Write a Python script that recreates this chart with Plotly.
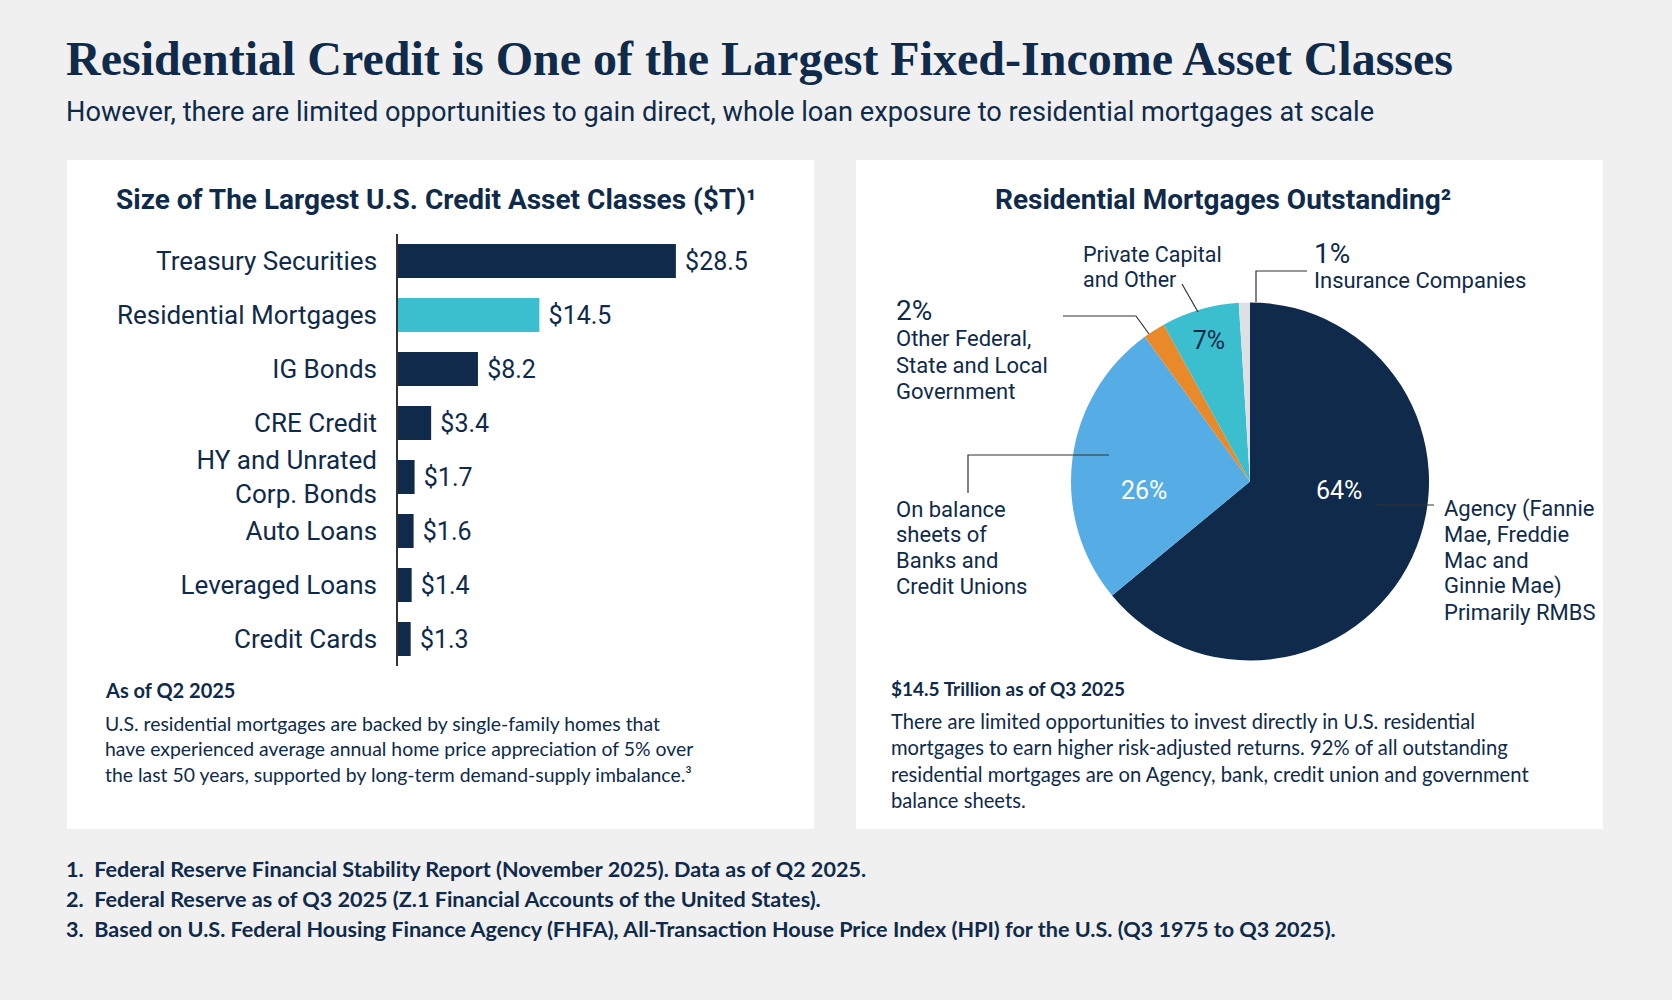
import plotly.graph_objects as go

W, H = 1672, 1000
NAVY = "#0f2a4a"
TEAL = "#3bbfcf"
LIGHT_BLUE = "#56ade6"
ORANGE = "#e8892a"
PALE = "#dde1e5"
BG = "#f0f0f0"

# --- data ---
asset_classes = ["Treasury Securities", "Residential Mortgages", "IG Bonds", "CRE Credit",
                 "HY and Unrated<br>Corp. Bonds", "Auto Loans", "Leveraged Loans", "Credit Cards"]
asset_sizes = [28.5, 14.5, 8.2, 3.4, 1.7, 1.6, 1.4, 1.3]
bar_colors = [NAVY, TEAL, NAVY, NAVY, NAVY, NAVY, NAVY, NAVY]

holders = ["Agency (Fannie Mae, Freddie Mac and Ginnie Mae) Primarily RMBS",
           "On balance sheets of Banks and Credit Unions",
           "Other Federal, State and Local Government",
           "Private Capital and Other",
           "Insurance Companies"]
holder_shares = [64, 26, 2, 7, 1]
holder_colors = [NAVY, LIGHT_BLUE, ORANGE, TEAL, PALE]
pie_text = ["", "", "", "7%", ""]

footnotes = [
    "1.  Federal Reserve Financial Stability Report (November 2025). Data as of Q2 2025.",
    "2.  Federal Reserve as of Q3 2025 (Z.1 Financial Accounts of the United States).",
    "3.  Based on U.S. Federal Housing Finance Agency (FHFA), All-Transaction House Price Index (HPI) for the U.S. (Q3 1975 to Q3 2025).",
]


def fx(x):
    return x / W


def fy(y):
    return 1 - y / H


fig = go.Figure()

fig.add_trace(go.Bar(
    y=asset_classes, x=asset_sizes, orientation="h",
    marker=dict(color=bar_colors, line=dict(width=0)),
    text=[f" ${v}" for v in asset_sizes], textposition="outside",
    textfont=dict(family="Roboto", size=25, color=NAVY),
    cliponaxis=False, hoverinfo="skip", xaxis="x", yaxis="y",
))

fig.add_trace(go.Pie(
    labels=holders, values=holder_shares, sort=False, direction="clockwise", rotation=0,
    marker=dict(colors=holder_colors, line=dict(width=0)),
    texttemplate=pie_text, textposition="inside", insidetextorientation="horizontal",
    textfont=dict(family="Roboto", size=25, color=NAVY),
    domain=dict(x=[fx(1071), fx(1429)], y=[fy(661), fy(302)]),
    showlegend=False, hoverinfo="skip",
))

shapes = [
    dict(type="rect", xref="paper", yref="paper", x0=fx(67), x1=fx(814), y0=fy(829), y1=fy(160),
         fillcolor="white", line=dict(width=0), layer="below"),
    dict(type="rect", xref="paper", yref="paper", x0=fx(856), x1=fx(1603), y0=fy(829), y1=fy(160),
         fillcolor="white", line=dict(width=0), layer="below"),
]

# leader lines for the pie callouts
leaders = [
    [(1182, 284), (1198, 312)],
    [(1307, 271), (1256, 271), (1256, 302)],
    [(1063, 316), (1136, 316), (1149, 334)],
    [(968, 493), (968, 455), (1109, 455)],
    [(1377, 505), (1434, 505)],
]
for pts in leaders:
    path = "M " + " L ".join(f"{fx(px)},{fy(py)}" for px, py in pts)
    shapes.append(dict(type="path", xref="paper", yref="paper", path=path,
                       line=dict(color="#333333", width=1.2)))

annotations = []


def note(x, y, text, size, family="Roboto", color=NAVY, xanchor="left", yanchor="middle"):
    annotations.append(dict(xref="paper", yref="paper", x=fx(x), y=fy(y), text=text, showarrow=False,
                            xanchor=xanchor, yanchor=yanchor, align="left",
                            font=dict(family=family, size=size, color=color)))


def lines(x, y0, rows, size, step, family="Roboto"):
    for i, row in enumerate(rows):
        note(x, y0 + step * i, row, size, family=family)


note(64, 58, "<b>Residential Credit is One of the Largest Fixed-Income Asset Classes</b>", 48,
     family="Liberation Serif")
note(64, 112, "However, there are limited opportunities to gain direct, whole loan exposure to residential mortgages at scale",
     27.2)
note(436, 199, "<b>Size of The Largest U.S. Credit Asset Classes ($T)¹</b>", 28, xanchor="center")
note(1223, 199, "<b>Residential Mortgages Outstanding²</b>", 28, xanchor="center")

note(103, 690, "<b>As of Q2 2025</b>", 20, family="Lato")
lines(103, 723, ["U.S. residential mortgages are backed by single-family homes that",
                 "have experienced average annual home price appreciation of 5% over",
                 "the last 50 years, supported by long-term demand-supply imbalance.³"],
      19.4, 25.6, family="Lato")

note(889, 688, "<b>$14.5 Trillion as of Q3 2025</b>", 19, family="Lato")
lines(889, 721, ["There are limited opportunities to invest directly in U.S. residential",
                 "mortgages to earn higher risk-adjusted returns. 92% of all outstanding",
                 "residential mortgages are on Agency, bank, credit union and government",
                 "balance sheets."],
      20.2, 26.3, family="Lato")

# pie labels and callouts
note(1339, 490, "64%", 25, color="white", xanchor="center")
note(1144, 490, "26%", 25, color="white", xanchor="center")
lines(1081, 254, ["Private Capital", "and Other"], 21.5, 25.5)
note(1312, 253, "1%", 28)
note(1312, 280, "Insurance Companies", 22)
note(894, 311, "2%", 28)
lines(894, 339, ["Other Federal,", "State and Local", "Government"], 22, 26)
lines(894, 509, ["On balance", "sheets of", "Banks and", "Credit Unions"], 22, 25.8)
lines(1442, 509, ["Agency (Fannie", "Mae, Freddie", "Mac and", "Ginnie Mae)", "Primarily RMBS"], 22, 25.8)

for i, line in enumerate(footnotes):
    note(64, 869 + 30 * i, f"<b>{line}</b>", 21.6, family="Lato")

fig.update_layout(
    width=W, height=H, margin=dict(l=0, r=0, t=0, b=0),
    paper_bgcolor=BG, plot_bgcolor="rgba(0,0,0,0)",
    showlegend=False, shapes=shapes, annotations=annotations,
    bargap=0.37,
    xaxis=dict(domain=[fx(398), fx(710)], range=[0, 32], visible=False, fixedrange=True),
    yaxis=dict(domain=[fy(666), fy(234)], autorange="reversed", showline=True, linecolor="#333333",
               linewidth=1.5, ticks="", ticklabelstandoff=14, showgrid=False, zeroline=False,
               tickfont=dict(family="Roboto", size=26, color=NAVY), fixedrange=True),
)

fig.write_html("out.html", config={"displayModeBar": False},
               post_script="document.body.style.margin='0';document.body.style.background='%s';" % BG)
